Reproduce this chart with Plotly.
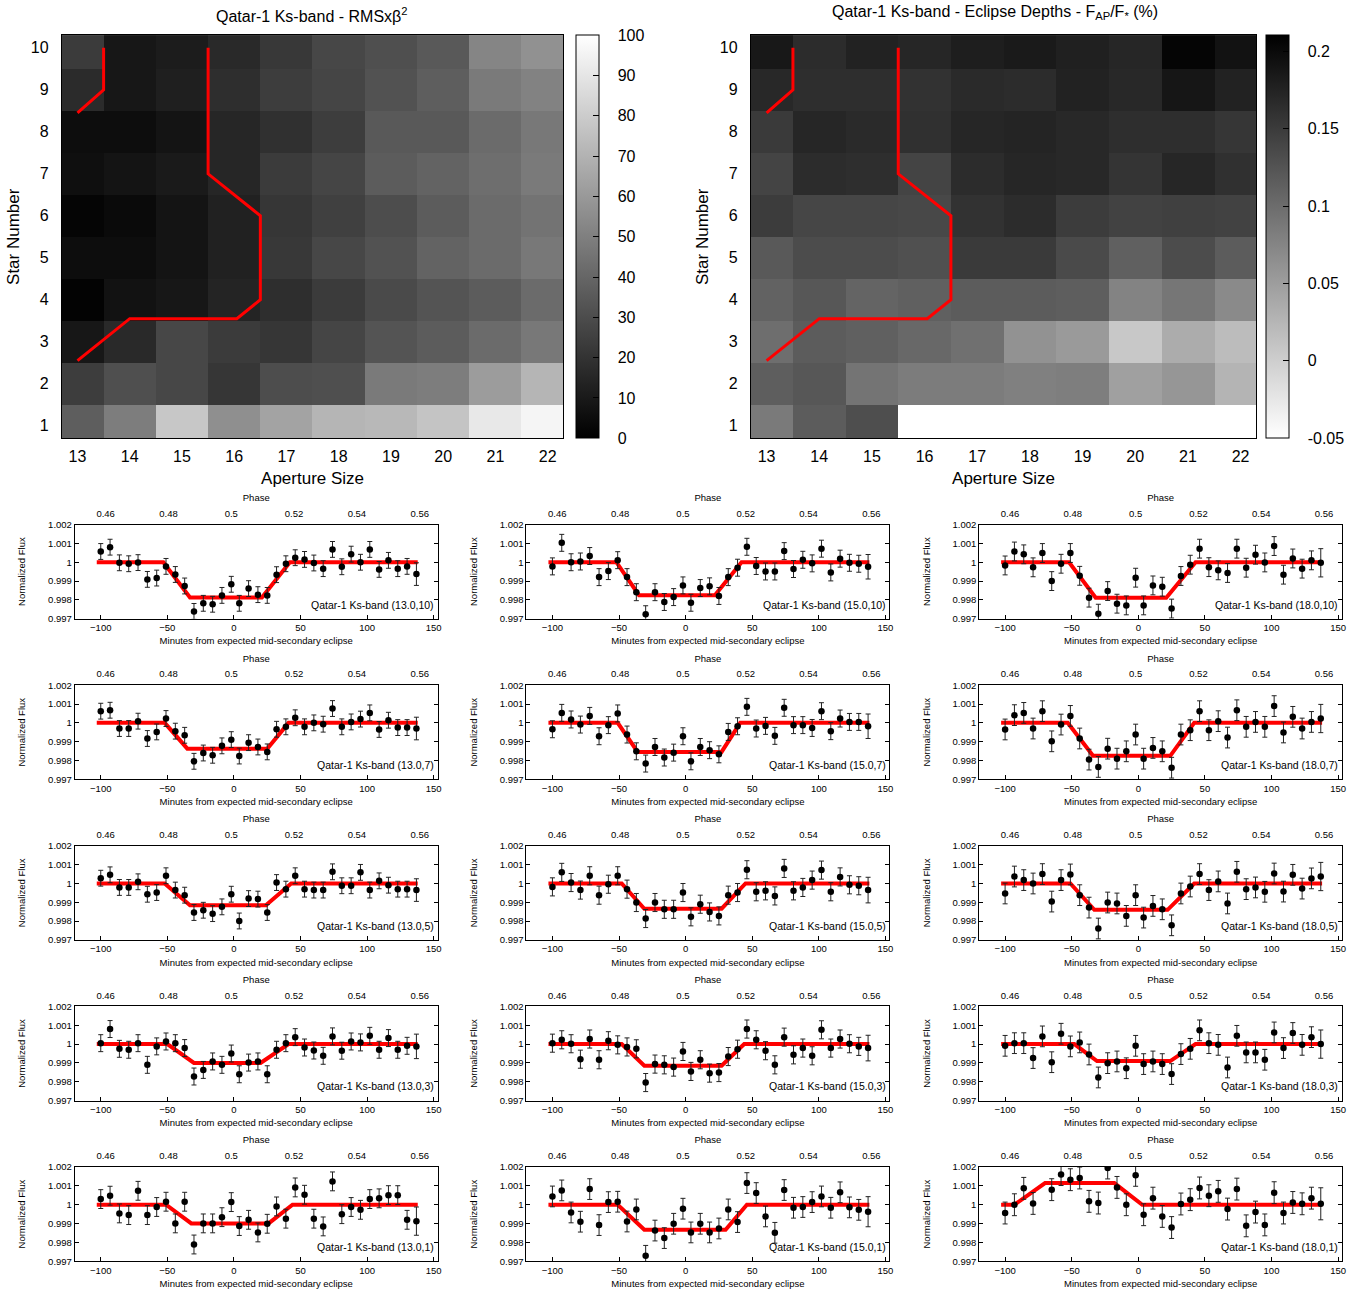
import plotly.graph_objects as go

W, H = 1372, 1296
FONT = "Liberation Sans, Arial, Helvetica, sans-serif"

# ---------------- heatmap data ----------------
APERTURES = [13, 14, 15, 16, 17, 18, 19, 20, 21, 22]
STARS = [1, 2, 3, 4, 5, 6, 7, 8, 9, 10]

# RMS x beta^2, rows = star 1..10, columns = aperture 13..22
RMS_BETA2 = [
    [37, 49, 78, 56, 64, 71, 72, 77, 91, 96],
    [24, 31, 28, 21, 30, 31, 48, 49, 61, 71],
    [9, 16, 28, 23, 21, 27, 33, 36, 42, 47],
    [1, 7, 9, 14, 18, 23, 29, 33, 36, 42],
    [5, 5, 8, 13, 22, 28, 32, 39, 42, 47],
    [2, 4, 8, 13, 21, 25, 30, 36, 42, 45],
    [6, 8, 10, 15, 23, 27, 36, 39, 43, 48],
    [5, 5, 8, 15, 19, 24, 35, 35, 42, 47],
    [17, 9, 12, 18, 24, 27, 32, 37, 48, 51],
    [23, 9, 11, 16, 22, 28, 31, 35, 52, 57],
]

# Eclipse depths (%), rows = star 1..10, columns = aperture 13..22
ECLIPSE_DEPTH = [
    [0.086, 0.116, 0.131, -0.05, -0.05, -0.05, -0.05, -0.05, -0.05, -0.05],
    [0.114, 0.122, 0.092, 0.084, 0.084, 0.080, 0.082, 0.047, 0.057, 0.027],
    [0.098, 0.116, 0.112, 0.104, 0.096, 0.061, 0.053, 0.006, 0.035, 0.018],
    [0.110, 0.122, 0.108, 0.112, 0.116, 0.116, 0.114, 0.077, 0.090, 0.069],
    [0.119, 0.133, 0.133, 0.129, 0.151, 0.151, 0.135, 0.112, 0.133, 0.116],
    [0.149, 0.139, 0.139, 0.137, 0.159, 0.165, 0.149, 0.143, 0.145, 0.143],
    [0.141, 0.165, 0.163, 0.141, 0.165, 0.171, 0.169, 0.157, 0.171, 0.161],
    [0.151, 0.171, 0.167, 0.161, 0.172, 0.174, 0.169, 0.163, 0.163, 0.155],
    [0.169, 0.163, 0.163, 0.159, 0.167, 0.165, 0.176, 0.169, 0.188, 0.176],
    [0.186, 0.165, 0.176, 0.171, 0.180, 0.184, 0.178, 0.171, 0.205, 0.192],
]

# red boundary lines drawn on both maps (aperture, star)
BOUND_A_X = [13.0, 13.5, 13.5]
BOUND_A_Y = [8.45, 9.0, 10.0]
BOUND_B_X = [15.5, 15.5, 16.5, 16.5, 16.05, 14.0, 13.0]
BOUND_B_Y = [10.0, 7.0, 6.0, 4.0, 3.55, 3.55, 2.55]

RMS_TICKS = [0, 10, 20, 30, 40, 50, 60, 70, 80, 90, 100]
DEPTH_TICKS = [-0.05, 0, 0.05, 0.1, 0.15, 0.2]
DEPTH_TICKTEXT = ["-0.05", "0", "0.05", "0.1", "0.15", "0.2"]

# ---------------- light-curve data ----------------
TIME_MIN = [-100, -93, -86, -79, -72, -65, -58, -51, -44, -37, -30, -23, -16, -9, -2,
            4, 11, 18, 25, 32, 39, 46, 53, 60, 67, 74, 81, 88, 95, 102, 109, 116,
            123, 130, 137]

FLUX_13_10 = [1.00057, 1.0008, 0.99997, 0.99992, 0.99998, 0.99909, 0.99916, 0.99978, 0.99935,
              0.99874, 0.99739, 0.99782, 0.99777, 0.99824, 0.99883, 0.99782, 0.9986, 0.99828,
              0.99824, 0.99934, 0.99992, 1.00024, 1.00015, 0.99996, 0.99966, 1.00068, 0.99976,
              1.00043, 1.0, 1.00068, 0.99962, 1.0001, 0.99966, 0.99978, 0.99937]
FLUX_15_10 = [0.99978, 1.00103, 1.0, 1.00004, 1.00033, 0.99921, 0.99953, 1.00011, 0.99921,
              0.99841, 0.99724, 0.99841, 0.99789, 0.99815, 0.99877, 0.99785, 0.99863, 0.99872,
              0.99821, 0.99921, 0.99971, 1.00082, 0.9998, 0.99951, 0.99951, 1.00059, 0.99964,
              1.00013, 0.99994, 1.00072, 0.99946, 1.00019, 0.99997, 0.99992, 0.99976]
FLUX_18_10 = [0.99983, 1.00057, 1.00042, 0.99973, 1.00049, 0.999, 0.99992, 1.00049, 0.99928,
              0.99812, 0.99727, 0.99847, 0.9978, 0.99771, 0.99918, 0.99771, 0.99877, 0.9987,
              0.99754, 0.99927, 0.99987, 1.00072, 0.99974, 0.99957, 0.99943, 1.00072, 0.99971,
              1.0004, 0.99999, 1.00086, 0.99934, 1.0002, 0.99966, 1.0001, 0.99997]
FLUX_13_7 = [1.00062, 1.00067, 0.9997, 0.9997, 1.00009, 0.99917, 0.99952, 1.00023, 0.99956,
             0.99934, 0.99796, 0.9984, 0.99828, 0.99878, 0.99911, 0.99824, 0.99895, 0.99872,
             0.99846, 0.99966, 0.99979, 1.00027, 0.99979, 1.0, 0.99993, 1.00076, 0.99979,
             1.00005, 1.0002, 1.00053, 0.99965, 1.00014, 0.99975, 0.99975, 0.9997]
FLUX_15_7 = [0.99966, 1.00053, 1.00018, 0.99991, 1.00037, 0.99929, 0.99988, 1.0005, 0.99938,
             0.99849, 0.99784, 0.99872, 0.99816, 0.99842, 0.99929, 0.99796, 0.99872, 0.99855,
             0.99833, 0.99952, 0.99982, 1.00085, 0.9997, 0.99984, 0.99931, 1.0008, 0.99988,
             0.99988, 0.99973, 1.00062, 0.99956, 1.00023, 1.00005, 1.00005, 0.99982]
FLUX_18_7 = [0.99965, 1.00041, 1.00053, 0.9997, 1.00062, 0.99902, 0.99991, 1.00037, 0.99917,
             0.99805, 0.99766, 0.99863, 0.9981, 0.99849, 0.99938, 0.9981, 0.99867, 0.99849,
             0.99762, 0.99938, 0.99961, 1.00062, 0.99961, 1.00009, 0.99922, 1.00067, 0.99979,
             1.00005, 0.99979, 1.00089, 0.99949, 1.00032, 0.9997, 1.00005, 1.00023]
FLUX_13_5 = [1.00028, 1.00046, 0.99979, 0.99979, 1.00009, 0.99943, 0.99952, 1.00041, 0.99965,
             0.99938, 0.99846, 0.99858, 0.9984, 0.99876, 0.99943, 0.99801, 0.9992, 0.99917,
             0.99846, 1.00005, 0.9997, 1.00041, 0.9997, 0.99965, 0.99965, 1.00062, 0.99988,
             0.99988, 1.00059, 0.99965, 1.00014, 0.99991, 0.9997, 0.9997, 0.99965]
FLUX_15_5 = [0.99982, 1.00059, 1.00005, 0.99965, 1.00041, 0.99938, 0.99996, 1.00041, 0.9997,
             0.99899, 0.99814, 0.99899, 0.99863, 0.99863, 0.99952, 0.99823, 0.9989, 0.99849,
             0.99828, 0.99938, 0.99952, 1.00073, 0.99956, 0.99961, 0.99934, 1.0008, 0.99961,
             0.99979, 1.00018, 1.00071, 0.99956, 1.00035, 0.99993, 0.99988, 0.99965]
FLUX_18_5 = [0.99947, 1.00037, 1.00018, 1.0, 1.0005, 0.99904, 1.00018, 1.00048, 0.99938,
             0.99872, 0.99761, 0.99899, 0.99894, 0.99828, 0.99938, 0.99819, 0.99881, 0.99863,
             0.99778, 0.99947, 0.99984, 1.0005, 0.99965, 1.00011, 0.99894, 1.00062, 0.9997,
             0.99979, 0.99956, 1.00053, 0.99957, 1.00046, 0.99973, 1.00027, 1.00037]
FLUX_13_3 = [1.00005, 1.0008, 0.99975, 0.9997, 1.00005, 0.9989, 0.99988, 1.00014, 1.00005,
             0.99979, 0.99828, 0.99863, 0.99908, 0.9989, 0.9995, 0.9984, 0.99902, 0.99908,
             0.9984, 0.9997, 1.00005, 1.00037, 0.99982, 0.99966, 0.99938, 1.00041, 0.99965,
             1.00014, 1.00009, 1.00044, 0.9997, 1.00032, 0.9997, 0.99991, 0.99988]
FLUX_15_3 = [1.00005, 1.00023, 1.00002, 0.9992, 1.00027, 0.99917, 1.00018, 0.99996, 0.99985,
             0.99975, 0.99796, 0.99894, 0.9989, 0.99878, 0.99961, 0.99855, 0.99917, 0.99846,
             0.99849, 0.99934, 0.99973, 1.0008, 1.00023, 0.99965, 0.9989, 1.00037, 0.99943,
             0.99979, 0.99938, 1.00076, 0.99979, 1.00027, 1.00002, 0.99988, 0.99979]
FLUX_18_3 = [0.99991, 1.00005, 1.00005, 0.99926, 1.00041, 0.99904, 1.00055, 0.99988, 1.00009,
             0.99945, 0.99823, 0.99899, 0.99908, 0.99872, 0.99991, 0.99894, 0.99908, 0.99894,
             0.99841, 0.99947, 0.99975, 1.00073, 1.00005, 0.99996, 0.99876, 1.00044, 0.99956,
             0.99956, 0.99917, 1.00062, 0.99979, 1.00059, 0.99996, 1.00037, 1.0]
FLUX_13_1 = [1.0003, 1.00048, 0.99954, 0.99945, 1.00074, 0.99945, 0.99988, 1.00016, 0.99901,
             1.00016, 0.99789, 0.99901, 0.99901, 0.99934, 1.00014, 0.99887, 0.9992, 0.99853,
             0.99899, 0.99991, 0.99926, 1.00092, 1.00053, 0.99926, 0.99885, 1.00124, 0.9995,
             0.99988, 0.99973, 1.0003, 1.00034, 1.00051, 1.00051, 0.9992, 0.99913]
FLUX_15_1 = [1.00044, 1.00076, 0.99959, 0.9991, 1.00083, 0.99892, 1.00014, 1.00016, 0.99911,
             0.99975, 0.99729, 0.99863, 0.99823, 0.99899, 0.99979, 0.99853, 0.99899, 0.99853,
             0.99874, 0.99975, 0.99908, 1.00115, 1.00062, 0.99938, 0.99851, 1.00078, 0.99984,
             0.99988, 1.00014, 1.00044, 0.99984, 1.00066, 0.99986, 0.99973, 0.99963]
FLUX_18_1 = [0.99956, 1.0, 1.00087, 1.00007, None, 1.0008, 1.0016, 1.00133, 1.00142,
             1.00018, 1.00009, 1.00195, 1.00092, 1.0, 1.00156, 0.99947, 1.00035, 0.99938,
             0.99879, 1.00004, 1.00027, 1.00089, 1.00048, 1.00071, 0.99977, 1.00083, 0.99888,
             0.99961, 0.99893, 1.00064, 0.99956, 1.00012, 1.00005, 1.00035, 1.00005]

# panel order: row by row (star 10, 7, 5, 3, 1), columns aperture 13.0, 15.0, 18.0
PANEL_LABELS = ["Qatar-1 Ks-band (13.0,10)", "Qatar-1 Ks-band (15.0,10)", "Qatar-1 Ks-band (18.0,10)",
                "Qatar-1 Ks-band (13.0,7)", "Qatar-1 Ks-band (15.0,7)", "Qatar-1 Ks-band (18.0,7)",
                "Qatar-1 Ks-band (13.0,5)", "Qatar-1 Ks-band (15.0,5)", "Qatar-1 Ks-band (18.0,5)",
                "Qatar-1 Ks-band (13.0,3)", "Qatar-1 Ks-band (15.0,3)", "Qatar-1 Ks-band (18.0,3)",
                "Qatar-1 Ks-band (13.0,1)", "Qatar-1 Ks-band (15.0,1)", "Qatar-1 Ks-band (18.0,1)"]
PANEL_FLUX = [FLUX_13_10, FLUX_15_10, FLUX_18_10, FLUX_13_7, FLUX_15_7, FLUX_18_7,
              FLUX_13_5, FLUX_15_5, FLUX_18_5, FLUX_13_3, FLUX_15_3, FLUX_18_3,
              FLUX_13_1, FLUX_15_1, FLUX_18_1]
# typical error bar and error bar of the last point
FLUX_ERR = [0.00042, 0.00045, 0.0005, 0.00042, 0.00045, 0.00055, 0.00042, 0.00048, 0.00055,
            0.00045, 0.00048, 0.00055, 0.0005, 0.00055, 0.00058]
FLUX_ERR_LAST = [0.0006, 0.00065, 0.00075, 0.0006, 0.00065, 0.00075, 0.0006, 0.00068, 0.00075,
                 0.00065, 0.00068, 0.00075, 0.00075, 0.0008, 0.00085]
# eclipse model: four contact times (min) and in-eclipse flux level
MODEL_CONTACTS = [[-53, -33, 21, 42], [-52, -35, 22, 42], [-52, -32, 21, 43],
                  [-52, -35, 25, 41], [-51, -36, 27, 41], [-53, -34, 24, 42],
                  [-52, -33, 24, 43], [-48, -31, 27, 45], [-51, -33, 22, 42],
                  [-50, -30, 20, 41], [-48, -31, 27, 44], [-48, -31, 24, 43],
                  [-51, -32, 26, 44], [-51, -31, 30, 46], [-93, -70, -18, 3]]
MODEL_LEVEL = [0.99813, 0.99825, 0.99812, 0.99863, 0.99846, 0.99825,
               0.99885, 0.99866, 0.9986, 0.9990, 0.99885, 0.9991,
               0.99901, 0.99867, 1.00115]
MODEL_START, MODEL_END = -103, 138

X_TICKS = [-100, -50, 0, 50, 100, 150]
PHASE_TICKS = [0.46, 0.48, 0.5, 0.52, 0.54, 0.56]
PHASE_TICKTEXT = ["0.46", "0.48", "0.5", "0.52", "0.54", "0.56"]
FLUX_TICKS = [0.997, 0.998, 0.999, 1.0, 1.001, 1.002]
FLUX_TICKTEXT = ["0.997", "0.998", "0.999", "1", "1.001", "1.002"]

# ---------------- layout geometry (pixels) ----------------
XR = [-119.5, 153]
YR = [0.997, 1.002]
PHASE_ZERO_MIN, PHASE_PERIOD_MIN = -2.0, 2358.0
COL_X = [(75, 439), (528, 892), (982, 1346)]
ROW_TOP = [523, 685, 847, 1009, 1171]
ROW_H = 95
CLEAR = "rgba(0,0,0,0)"


def fx(px):
    return px / W


def fy(py):
    return 1 - py / H


fig = go.Figure()
layout = dict(width=W, height=H, margin=dict(l=0, r=0, t=0, b=0),
              paper_bgcolor="white", plot_bgcolor="white", showlegend=False,
              font=dict(family=FONT, color="black"))

# ---------------- heatmaps ----------------
HM_Y = (29.5, 436)
hm_specs = [
    dict(z=RMS_BETA2, cs=[[0, "black"], [1, "white"]], zmin=0, zmax=100,
         xdom=(62, 565), cbx=578, ticks=RMS_TICKS, ticktext=[str(t) for t in RMS_TICKS],
         title="Qatar-1 Ks-band - RMSxβ<sup>2</sup>", title_x=313, title_y=9),
    dict(z=ECLIPSE_DEPTH, cs=[[0, "white"], [1, "black"]], zmin=-0.05, zmax=0.2103,
         xdom=(753, 1260), cbx=1270, ticks=DEPTH_TICKS, ticktext=DEPTH_TICKTEXT,
         title="Qatar-1 Ks-band - Eclipse Depths - F<sub>AP</sub>/F<sub>*</sub> (%)", title_x=998,
         title_y=7),
]
annotations = []
for i, s in enumerate(hm_specs):
    xa = "x" if i == 0 else "x2"
    ya = "y" if i == 0 else "y2"
    cb_common = dict(x=fx(s["cbx"]), xanchor="left", xpad=0, ypad=0,
                     y=fy((HM_Y[0] + HM_Y[1]) / 2), yanchor="middle",
                     len=(HM_Y[1] - HM_Y[0]) / H, lenmode="fraction",
                     thickness=23, thicknessmode="pixels",
                     tickmode="array", tickvals=s["ticks"], ticktext=s["ticktext"],
                     tickfont=dict(size=16, family=FONT, color="black"))
    # first copy: carries the tick labels (pushed away from the bar)
    fig.add_trace(go.Heatmap(
        z=s["z"], x=APERTURES, y=STARS, colorscale=s["cs"], zmin=s["zmin"], zmax=s["zmax"],
        xaxis=xa, yaxis=ya, hoverinfo="skip",
        colorbar=dict(**cb_common, outlinewidth=0, ticks="outside", ticklen=16,
                      tickcolor=CLEAR)))
    # second copy on top: draws the bar with inside tick marks
    fig.add_trace(go.Heatmap(
        z=s["z"], x=APERTURES, y=STARS, colorscale=s["cs"], zmin=s["zmin"], zmax=s["zmax"],
        xaxis=xa, yaxis=ya, hoverinfo="skip",
        colorbar=dict(**cb_common, outlinewidth=1, outlinecolor="black",
                      ticks="inside", ticklen=6, tickwidth=1, tickcolor="black",
                      showticklabels=False)))
    for bx, by in [(BOUND_A_X, BOUND_A_Y), (BOUND_B_X, BOUND_B_Y)]:
        fig.add_trace(go.Scatter(x=bx, y=by, mode="lines", xaxis=xa, yaxis=ya,
                                 line=dict(color="#ff0000", width=3), hoverinfo="skip"))
    xkey = "xaxis" if i == 0 else "xaxis2"
    ykey = "yaxis" if i == 0 else "yaxis2"
    layout[xkey] = dict(domain=[fx(s["xdom"][0]), fx(s["xdom"][1])], anchor=ya,
                        range=[12.7, 22.3], tickmode="array", tickvals=APERTURES,
                        showline=True, linecolor="black", linewidth=1, mirror=True,
                        ticks="outside", ticklen=4, tickcolor=CLEAR,
                        showgrid=False, zeroline=False,
                        tickfont=dict(size=16), title=dict(text="Aperture Size", font=dict(size=17), standoff=7))
    layout[ykey] = dict(domain=[fy(HM_Y[1]), fy(HM_Y[0])], anchor=xa,
                        range=[0.7, 10.3], tickmode="array", tickvals=STARS,
                        showline=True, linecolor="black", linewidth=1, mirror=True,
                        ticks="outside", ticklen=9, tickcolor=CLEAR,
                        showgrid=False, zeroline=False,
                        tickfont=dict(size=16), title=dict(text="Star Number", font=dict(size=17), standoff=6))
    annotations.append(dict(text=s["title"], x=fx(s["title_x"]), y=fy(s["title_y"]), xref="paper", yref="paper",
                            xanchor="center", yanchor="middle", showarrow=False,
                            font=dict(size=16, family=FONT, color="black")))

# ---------------- light curve panels ----------------
phase_range = [0.5 + (XR[0] - PHASE_ZERO_MIN) / PHASE_PERIOD_MIN,
               0.5 + (XR[1] - PHASE_ZERO_MIN) / PHASE_PERIOD_MIN]
for k in range(15):
    r, c = divmod(k, 3)
    xb = 3 + 2 * k
    xt = 4 + 2 * k
    yn = 3 + k
    xb_id, xt_id, y_id = f"x{xb}", f"x{xt}", f"y{yn}"
    flux = PANEL_FLUX[k]
    errs = [FLUX_ERR[k]] * (len(TIME_MIN) - 1) + [FLUX_ERR_LAST[k]]
    t1, t2, t3, t4 = MODEL_CONTACTS[k]
    lvl = MODEL_LEVEL[k]
    fig.add_trace(go.Scatter(
        x=[MODEL_START, t1, t2, t3, t4, MODEL_END], y=[1, 1, lvl, lvl, 1, 1],
        mode="lines", line=dict(color="#ff0000", width=4), xaxis=xb_id, yaxis=y_id,
        hoverinfo="skip"))
    fig.add_trace(go.Scatter(
        x=TIME_MIN, y=flux, mode="markers", xaxis=xb_id, yaxis=y_id,
        marker=dict(color="black", size=6.5),
        error_y=dict(type="data", array=errs, visible=True, color="#222222",
                     thickness=1, width=2.5),
        hoverinfo="skip"))
    fig.add_trace(go.Scatter(x=phase_range, y=[1, 1], mode="markers", opacity=0,
                             xaxis=xt_id, yaxis=y_id, hoverinfo="skip",
                             marker=dict(size=1)))
    x0, x1 = COL_X[c]
    ytop = ROW_TOP[r]
    layout[f"xaxis{xb}"] = dict(domain=[fx(x0), fx(x1)], anchor=y_id, range=XR,
                                tickmode="array", tickvals=X_TICKS,
                                ticks="inside", ticklen=4, tickcolor="black",
                                showline=True, linecolor="black", linewidth=1, mirror=True,
                                showgrid=False, zeroline=False,
                                tickfont=dict(size=9.5),
                                title=dict(text="Minutes from expected mid-secondary eclipse",
                                           font=dict(size=9.5), standoff=5))
    layout[f"xaxis{xt}"] = dict(overlaying=xb_id, side="top", anchor=y_id, range=phase_range,
                                tickmode="array", tickvals=PHASE_TICKS, ticktext=PHASE_TICKTEXT,
                                ticks="outside", ticklen=3, tickcolor=CLEAR,
                                showline=False, showgrid=False, zeroline=False,
                                tickfont=dict(size=9.5),
                                title=dict(text="Phase", font=dict(size=9.5), standoff=4))
    layout[f"yaxis{yn}"] = dict(domain=[fy(ytop + ROW_H), fy(ytop)], anchor=xb_id, range=YR,
                                tickmode="array", tickvals=FLUX_TICKS, ticktext=FLUX_TICKTEXT,
                                ticks="inside", ticklen=4, tickcolor="black",
                                showline=True, linecolor="black", linewidth=1, mirror="ticks",
                                showgrid=False, zeroline=False,
                                tickfont=dict(size=9.5),
                                title=dict(text="Normalized Flux", font=dict(size=9.5), standoff=20))
    annotations.append(dict(text=PANEL_LABELS[k], xref=f"{xb_id} domain", yref=y_id,
                            x=0.995, y=0.99775, xanchor="right", yanchor="middle",
                            showarrow=False, font=dict(size=10.5, family=FONT, color="black")))

layout["annotations"] = annotations
fig.update_layout(**layout)
fig.write_html("out.html", config={"displayModeBar": False},
               post_script="document.body.style.margin='0';document.body.style.overflow='hidden';")
